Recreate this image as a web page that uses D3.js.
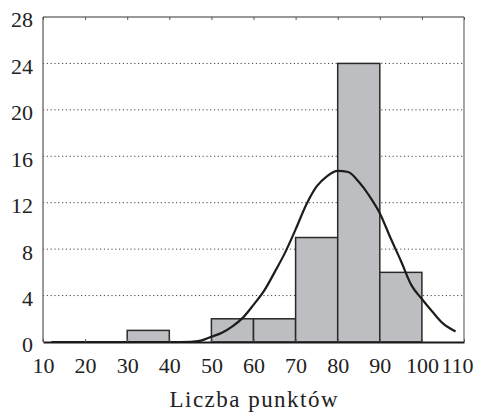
<!DOCTYPE html>
<html><head><meta charset="utf-8">
<script src="https://cdn.jsdelivr.net/npm/d3@7"></script>
<style>body{margin:0;background:#fff}</style>
</head><body><svg id="c" width="480" height="414"></svg>
<script>
// ---- data ----
const binStarts = [10, 20, 30, 40, 50, 60, 70, 80, 90, 100];
const binWidth = 10;
const counts = [0, 0, 1, 0, 2, 2, 9, 24, 6, 0];
const xTicks = [10, 20, 30, 40, 50, 60, 70, 80, 90, 100, 110];
const yTicks = [0, 4, 8, 12, 16, 20, 24, 28];
const gridTicks = [4, 8, 12, 16, 20, 24];
const curveX = [12, 20, 30, 40, 45, 47.5, 50, 52.5, 55, 57.5, 60, 62.5, 65, 67.5, 70, 72.5, 75, 77.5, 80, 82.5, 85, 87.5, 90, 92.5, 95, 97.5, 100, 102.5, 105, 108];
const curveY = [0, 0, 0, 0, 0.02, 0.12, 0.45, 0.8, 1.35, 2.1, 3.2, 4.4, 6.0, 7.7, 9.7, 11.8, 13.4, 14.3, 14.75, 14.65, 13.8, 12.6, 11.1, 9.0, 7.0, 4.9, 3.7, 2.6, 1.6, 0.9];
const xLabel = "Liczba punktów";

// ---- chart ----
const svg = d3.select("#c");
const font = "'Liberation Serif', 'DejaVu Serif', serif";
const x = d3.scaleLinear().domain([10, 110]).range([43, 464]);
const y = d3.scaleLinear().domain([0, 28]).range([342, 17]);

// grid
svg.append("g").selectAll("line").data(gridTicks).join("line")
  .attr("x1", x(10)).attr("x2", x(110))
  .attr("y1", d => y(d)).attr("y2", d => y(d))
  .attr("stroke", "#444").attr("stroke-width", 1)
  .attr("stroke-dasharray", "1.2,2.6");

// bars
const bins = binStarts.map((s, i) => ({s, c: counts[i]})).filter(d => d.c > 0);
svg.append("g").selectAll("rect").data(bins).join("rect")
  .attr("x", d => x(d.s))
  .attr("width", d => x(d.s + binWidth) - x(d.s))
  .attr("y", d => y(d.c))
  .attr("height", d => y(0) - y(d.c))
  .attr("fill", "#bdbec2")
  .attr("stroke", "#2a2a2a").attr("stroke-width", 1.5);

// fitted curve
const pts = curveX.map((v, i) => [v, curveY[i]]);
svg.append("path").datum(pts)
  .attr("d", d3.line().x(d => x(d[0])).y(d => y(d[1])).curve(d3.curveMonotoneX))
  .attr("fill", "none").attr("stroke", "#1c1c1c").attr("stroke-width", 2.2);

// frame
svg.append("line").attr("x1", x(10)).attr("x2", x(110)).attr("y1", y(28)).attr("y2", y(28))
  .attr("stroke", "#333").attr("stroke-width", 1.2);
svg.append("line").attr("x1", x(110)).attr("x2", x(110)).attr("y1", y(28)).attr("y2", y(0))
  .attr("stroke", "#777").attr("stroke-width", 1.3);
svg.append("line").attr("x1", x(10)).attr("x2", x(10)).attr("y1", y(28)).attr("y2", y(0))
  .attr("stroke", "#777").attr("stroke-width", 1.5);

// top ticks (inside)
svg.append("g").attr("transform", `translate(0,${y(28)})`)
  .call(d3.axisTop(x).tickValues(xTicks).tickSizeInner(-3).tickSizeOuter(0).tickFormat(""))
  .call(g => g.select(".domain").remove())
  .call(g => g.selectAll("line").attr("stroke", "#555"));

// bottom axis
const gx = svg.append("g").attr("transform", `translate(0,${y(0)})`)
  .call(d3.axisBottom(x).tickValues(xTicks).tickSizeInner(-3).tickSizeOuter(0).tickPadding(15));
gx.select(".domain").attr("stroke", "#1a1a1a").attr("stroke-width", 2);
gx.selectAll(".tick line").attr("stroke", "#555");
gx.selectAll("text").attr("font-family", font).attr("font-size", 22).attr("fill", "#222");
gx.selectAll(".tick").filter(d => d === 110).select("text").attr("dx", -7);

// left axis
const gy = svg.append("g").attr("transform", `translate(${x(10)},0)`)
  .call(d3.axisLeft(y).tickValues(yTicks).tickSize(0).tickPadding(10));
gy.select(".domain").remove();
gy.selectAll("text").attr("font-family", font).attr("font-size", 22).attr("fill", "#222").attr("dy", "0.45em");

// x label
svg.append("text").attr("x", (x(10) + x(110)) / 2).attr("y", 407)
  .attr("text-anchor", "middle").attr("font-family", font).attr("font-size", 23)
  .attr("fill", "#222").attr("textLength", 168).attr("lengthAdjust", "spacing")
  .text(xLabel);
</script></body></html>
